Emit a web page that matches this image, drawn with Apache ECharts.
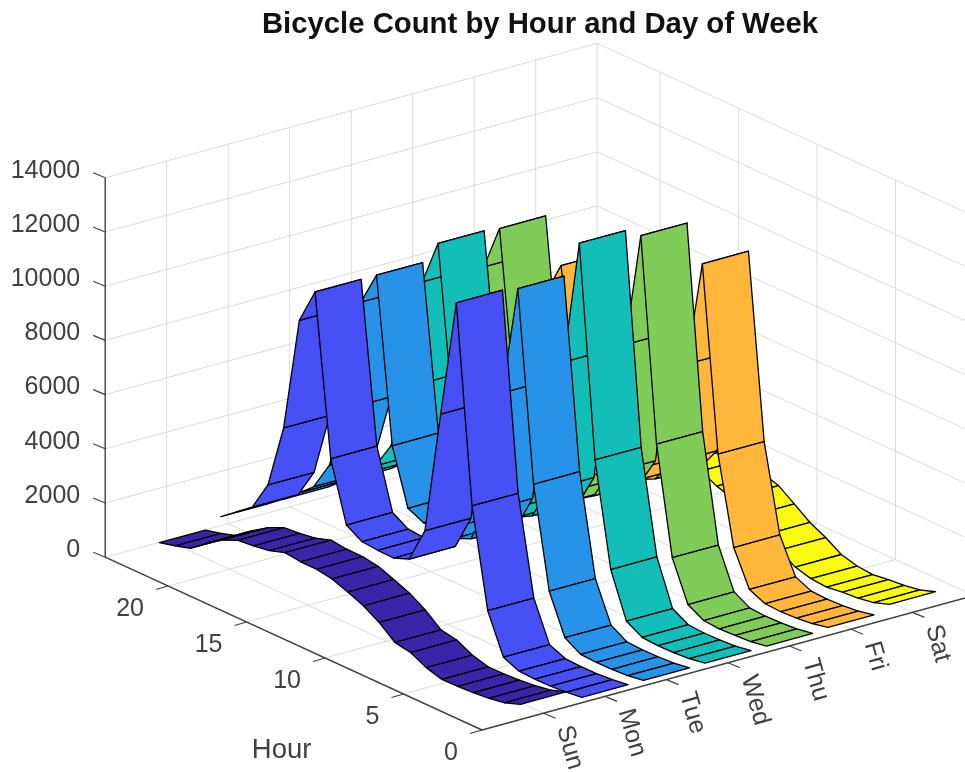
<!DOCTYPE html>
<html><head><meta charset="utf-8">
<style>html,body{margin:0;padding:0;background:#fff}#c{width:965px;height:772px}</style>
<script src="https://cdn.jsdelivr.net/npm/echarts@6/dist/echarts.min.js"></script>
</head><body><div id="c"></div>
<script>
const titleText = 'Bicycle Count by Hour and Day of Week';
const dayLabels = ['Sun','Mon','Tue','Wed','Thu','Fri','Sat'];
const hourTicks = [0,5,10,15,20];
const countTicks = [0,2000,4000,6000,8000,10000,12000,14000];
const hours = [0,1,2,3,4,5,6,7,8,9,10,11,12,13,14,15,16,17,18,19,20,21,22,23];
const sunCounts = [560,350,250,190,160,150,320,610,720,1190,1540,1780,2000,2090,2100,2170,1980,1890,1830,1570,1190,740,560,415];
const monCounts = [200,120,80,70,100,350,1800,5400,12630,8260,3690,2380,2150,2170,2220,2570,4750,10640,9330,5090,2720,1640,1200,755];
const tueCounts = [200,110,80,70,100,450,1900,5580,12530,8420,3800,2500,2260,2250,2300,2570,4610,10640,9380,5160,2830,1770,1270,765];
const wedCounts = [220,120,80,70,110,440,2080,5860,13590,8940,3950,2730,2410,2350,2400,2740,4940,11190,9510,5340,2920,1920,1320,815];
const thuCounts = [230,130,90,70,110,435,1900,5820,13250,8960,3950,2850,2460,2400,2450,2790,4940,11120,9440,5230,2920,1920,1370,865];
const friCounts = [300,170,110,80,110,370,1650,4830,11590,7620,3700,2860,2560,2550,2650,2940,4440,9130,7830,4430,2620,1820,1420,1015];
const satCounts = [530,330,230,180,100,150,310,670,960,1380,1790,1970,2260,2350,2350,2340,2290,2140,1830,1430,1070,820,620,415];
const dayCounts = [sunCounts,monCounts,tueCounts,wedCounts,thuCounts,friCounts,satCounts];
const dayColors = ['#3A25A8','#4650F5','#2793E8','#13BEB8','#81CC59','#FEB73A','#F9FB0E'];

const ribbonWidth = 0.75;
const xMax = 8, hMax = 24, zMax = 14000;
// orthographic view: data (day, hour, count) -> plane
const view = {ox:482, oy:730, xx:61.5, xy:-16.8, hx:-15.7, hy:-7.2, zy:-0.0271};
function proj(x,h,z){
  return [view.ox + view.xx*x + view.hx*h, view.oy + view.xy*x + view.hy*h + view.zy*z];
}
const gridColor = '#dcdcdc', axisColor = '#404040', textColor = '#404040';
const font = 'Liberation Sans, Arial, sans-serif';

const gridSegs = [];
countTicks.forEach(z=>{ gridSegs.push([0,hMax,z,xMax,hMax,z]); gridSegs.push([xMax,0,z,xMax,hMax,z]); });
dayLabels.forEach((_,i)=>{ const x=i+1; gridSegs.push([x,hMax,0,x,hMax,zMax]); gridSegs.push([x,0,0,x,hMax,0]); });
hourTicks.forEach(h=>{ gridSegs.push([xMax,h,0,xMax,h,zMax]); gridSegs.push([0,h,0,xMax,h,0]); });
gridSegs.push([xMax,hMax,0,xMax,hMax,zMax]);

const axisSegs = [[0,0,0,0,hMax,0],[0,0,0,xMax,0,0],[0,hMax,0,0,hMax,zMax]];

function segSeries(segs,color,width,z){
  return {type:'custom',coordinateSystem:'cartesian2d',silent:true,z,clip:false,
    data:segs,
    renderItem:(p,api)=>{
      const a=api.coord(proj(api.value(0),api.value(1),api.value(2)));
      const b=api.coord(proj(api.value(3),api.value(4),api.value(5)));
      return {type:'line',shape:{x1:a[0],y1:a[1],x2:b[0],y2:b[1]},style:{stroke:color,lineWidth:width,fill:null}};
    }};
}
function tickSeries(points,dx,dy){
  return {type:'custom',coordinateSystem:'cartesian2d',silent:true,z:4,clip:false,data:points,
    renderItem:(p,api)=>{
      const a=api.coord(proj(api.value(0),api.value(1),api.value(2)));
      return {type:'line',shape:{x1:a[0],y1:a[1],x2:a[0]+dx,y2:a[1]+dy},style:{stroke:axisColor,lineWidth:1.2,fill:null}};
    }};
}
function labelSeries(points,texts,opt){
  return {type:'custom',coordinateSystem:'cartesian2d',silent:true,z:5,clip:false,data:points,
    renderItem:(p,api)=>{
      const a=api.coord(proj(api.value(0),api.value(1),api.value(2)));
      return {type:'text',x:a[0]+opt.dx,y:a[1]+opt.dy,rotation:opt.rot||0,
        style:{text:texts[p.dataIndex],align:opt.align,verticalAlign:'middle',fill:textColor,font:opt.size+'px '+font}};
    }};
}
const dayPts = dayLabels.map((_,i)=>[i+1,0,0]);
const hourPts = hourTicks.map(h=>[0,h,0]);
const zPts = countTicks.map(z=>[0,hMax,z]);

const ribbons = [];
for(let d=dayCounts.length-1;d>=0;d--){
  const vals = dayCounts[d], rows=[];
  for(let i=hours.length-2;i>=0;i--) rows.push([d+1,hours[i],vals[i],hours[i+1],vals[i+1]]);
  ribbons.push({type:'custom',name:dayLabels[d],coordinateSystem:'cartesian2d',silent:true,clip:false,
    z:10+(dayCounts.length-d),data:rows,
    renderItem:(p,api)=>{
      const x=api.value(0),h0=api.value(1),z0=api.value(2),h1=api.value(3),z1=api.value(4),w=ribbonWidth/2;
      const pts=[proj(x-w,h0,z0),proj(x+w,h0,z0),proj(x+w,h1,z1),proj(x-w,h1,z1)].map(q=>api.coord(q));
      return {type:'polygon',z2:p.dataIndex,shape:{points:pts},
        style:{fill:dayColors[d],stroke:'#000',lineWidth:1.3,lineJoin:'round'}};
    }});
}

const chart = echarts.init(document.getElementById('c'),null,{renderer:'canvas'});
chart.setOption({
  animation:false,backgroundColor:'#fff',
  title:{text:titleText,left:535,top:5,textAlign:'center',
    textStyle:{fontFamily:font,fontWeight:'bold',fontSize:29.3,color:'#111'}},
  grid:{left:0,right:0,top:0,bottom:0},
  xAxis:{type:'value',min:0,max:965,show:false},
  yAxis:{type:'value',min:0,max:772,inverse:true,show:false},
  series:[
    segSeries(gridSegs,gridColor,1,1),
    segSeries(axisSegs,axisColor,1.4,3),
    tickSeries(dayPts,12,5),
    tickSeries(hourPts,-12,3.5),
    tickSeries(zPts,-12,-5),
    labelSeries(dayPts,dayLabels,{dx:20,dy:13,rot:-74*Math.PI/180,align:'left',size:25}),
    labelSeries(hourPts,hourTicks.map(String),{dx:-24,dy:23,align:'right',size:25}),
    labelSeries(zPts,countTicks.map(String),{dx:-25,dy:-7,align:'right',size:25}),
    labelSeries([[0,12,0]],['Hour'],{dx:-12,dy:107,align:'center',size:27.5})
  ].concat(ribbons)
});
</script></body></html>
